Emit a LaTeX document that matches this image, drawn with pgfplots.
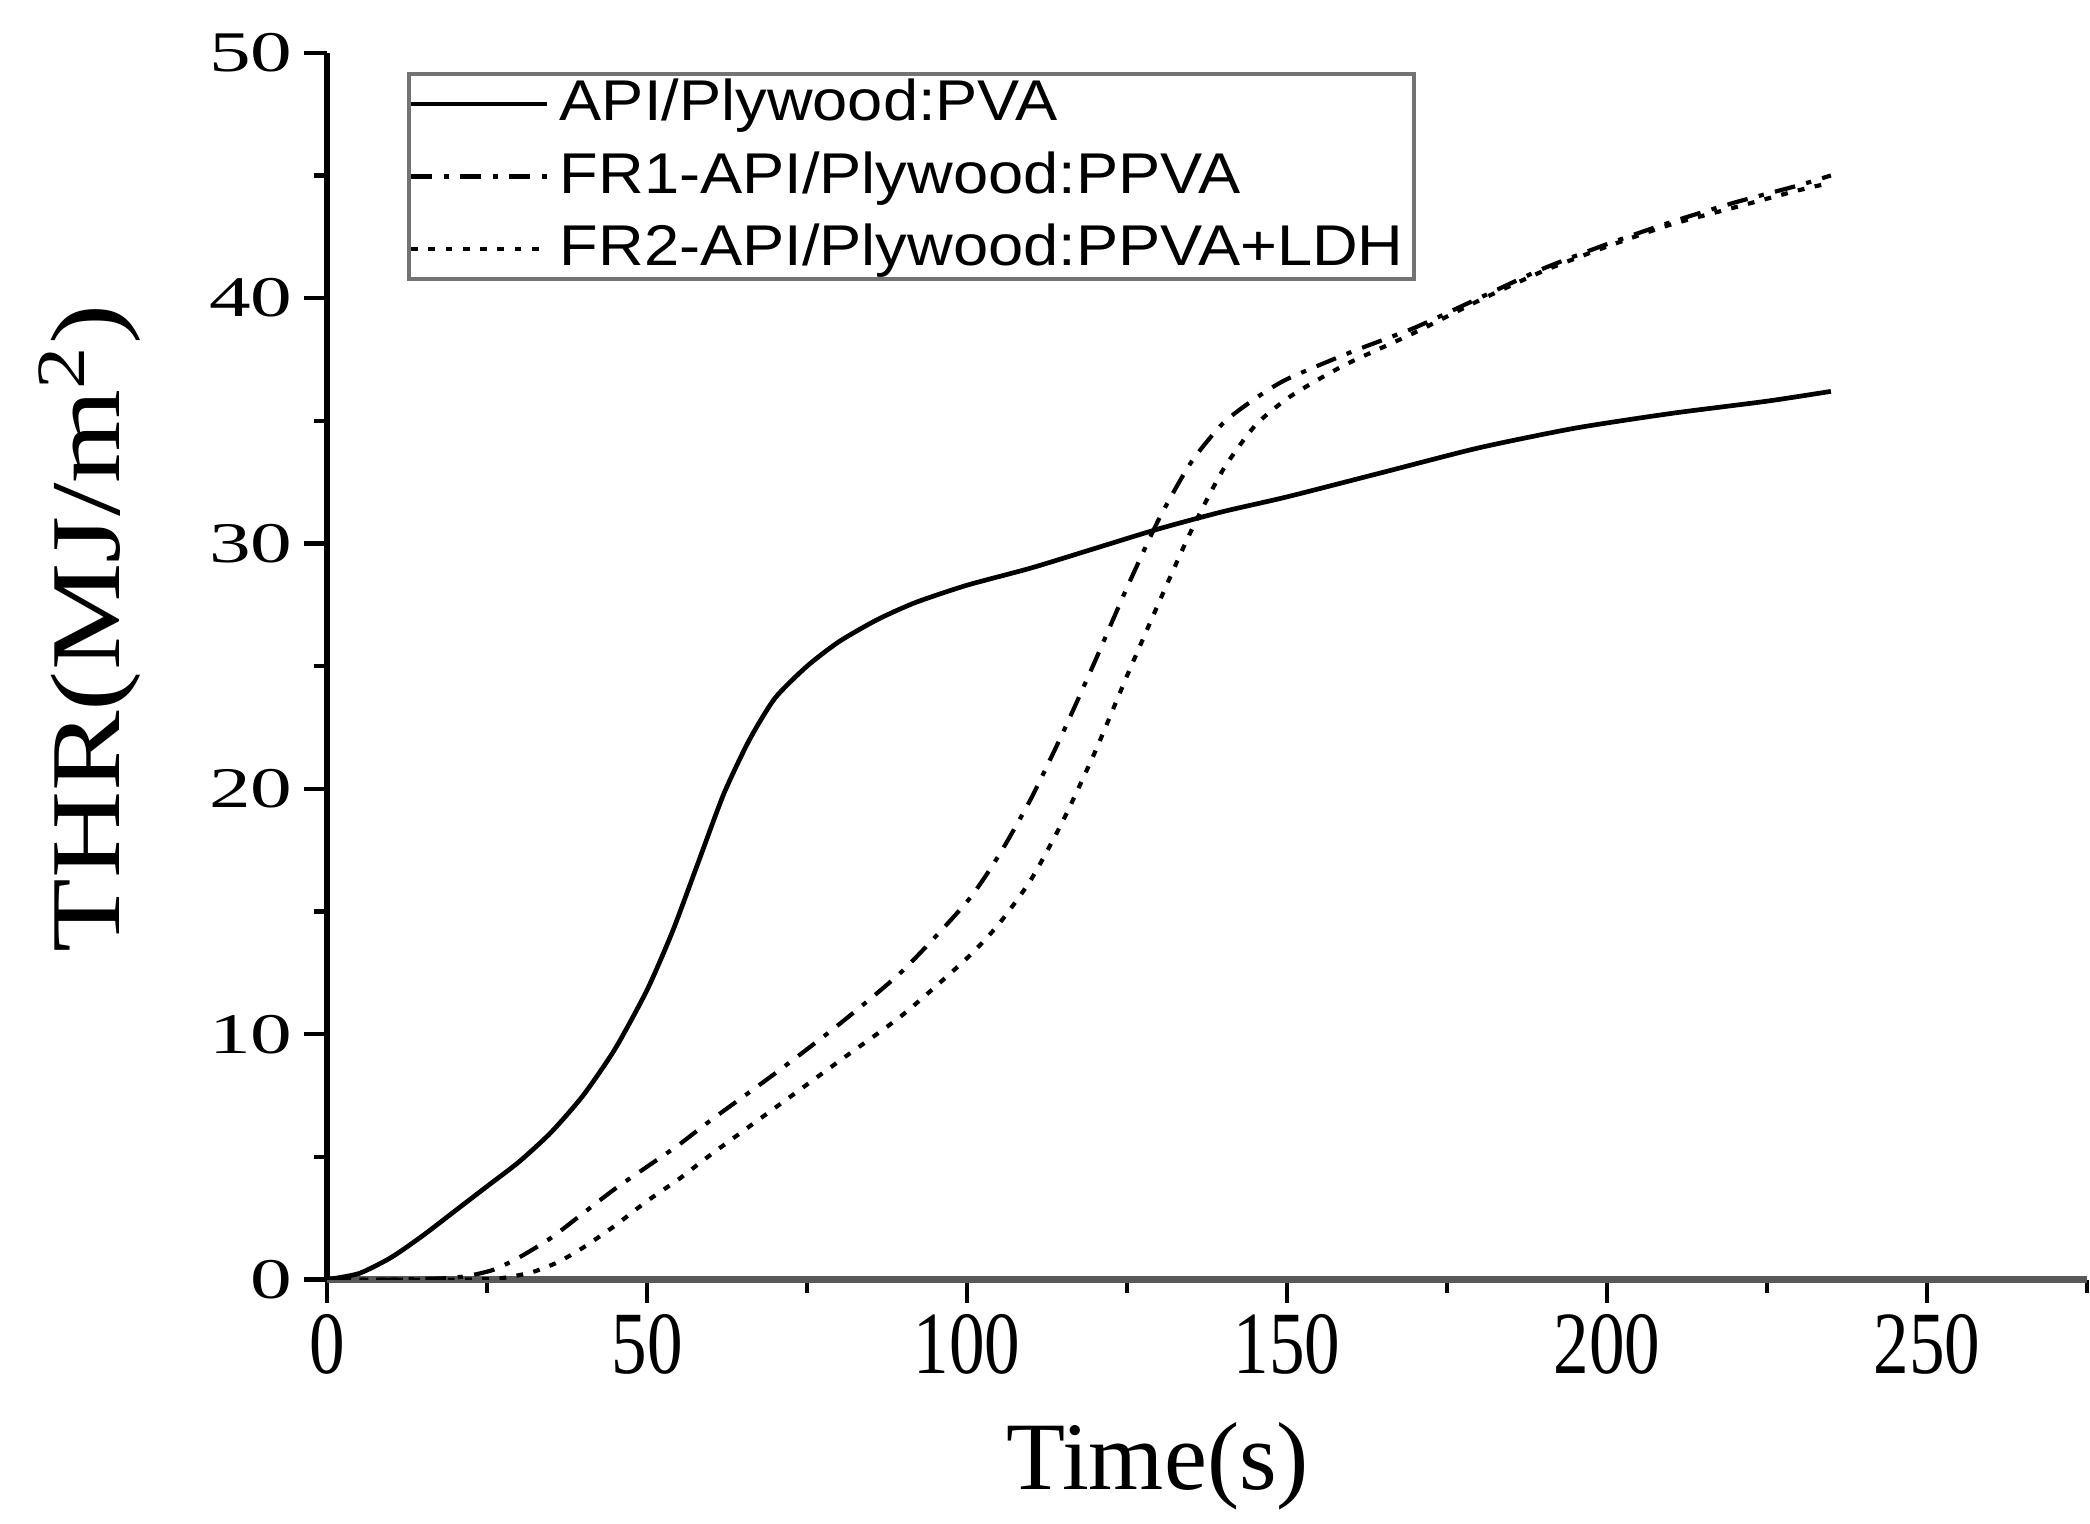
\documentclass[border=0pt]{standalone}
\usepackage{pgfplots}
\pgfplotsset{compat=1.18}
\usepackage{fontspec}
\setmainfont{Liberation Serif}
\setsansfont{Liberation Sans}

\begin{document}
\begin{tikzpicture}
\begin{axis}[
  scale only axis, width=336.8pt, height=234.8pt,
  xmin=0, xmax=275, ymin=0, ymax=50,
  axis lines*=left,
  axis line style={line width=1pt, black},
  x axis line style={draw=black!65, line width=1.2pt},
  tick align=outside,
  major tick length=4.4pt, minor tick length=2.5pt,
  every tick/.style={black, line width=0.8pt},
  xtick={0,50,...,250}, minor xtick={25,75,...,275},
  ytick={0,10,...,50}, minor ytick={5,15,...,45},
  /pgf/number format/assume math mode=true,
  xticklabel={\scalebox{1}[1.25]{\pgfmathprintnumber{\tick}}},
  yticklabel={\scalebox{1.45}[1]{\pgfmathprintnumber{\tick}}},
  xticklabel style={font=\fontsize{13.6}{15}\selectfont, inner sep=2pt},
  yticklabel style={font=\fontsize{11}{13}\selectfont, inner sep=2pt},
  xlabel={Time(s)},
  ylabel={\scalebox{1.1}[0.9]{THR(MJ/m\textsuperscript{2})}},
  xlabel style={font=\fontsize{18.5}{21}\selectfont, at={(axis description cs:0.472,-0.152)}, anchor=center},
  ylabel style={font=\fontsize{21}{24}\selectfont, at={(axis description cs:-0.135,0.531)}, anchor=center},
  legend style={at={(rel axis cs:0.0454,0.9842)}, anchor=north west, draw=black!55, line width=0.7pt,
    font=\sffamily\fontsize{11}{13}\selectfont, inner xsep=0pt, inner ysep=-1pt, row sep=0.4pt},
  legend cell align=left,
  legend image code/.code={\draw[#1] (0pt,0pt) -- (26pt,0pt);},
]
\coordinate (BL) at (rel axis cs:0,0);
\coordinate (TR) at (rel axis cs:1,1);

\addplot[black, line width=0.9pt, smooth, tension=0.4] coordinates {
(0,0) (5,0.25) (10,0.9) (15,1.8) (20,2.8) (25,3.8) (30,4.8) (35,6.0) (40,7.5) (45,9.4)
(50,11.8) (54,14.2) (58,17.0) (62,19.8) (66,22.0) (70,23.7) (75,25.0) (80,26.0) (86,26.9)
(92,27.6) (100,28.3) (110,29.0) (120,29.8) (130,30.6) (140,31.3) (150,31.9) (165,32.9)
(180,33.9) (195,34.7) (210,35.3) (225,35.8) (235,36.2)};
\addlegendentry{\scalebox{1.1}[1]{API/Plywood:PVA}}

\addplot[black, line width=0.8pt, dash pattern=on 4pt off 2.2pt on 1pt off 2.2pt, smooth, tension=0.4] coordinates {
(0,0) (10,0) (18,0.05) (22,0.15) (26,0.4) (30,0.9) (35,1.7) (40,2.7) (45,3.7) (50,4.6)
(55,5.5) (60,6.5) (70,8.4) (80,10.4) (90,12.6) (100,15.4) (105,17.3) (110,19.6) (115,22.3)
(120,25.2) (125,28.2) (130,31.0) (135,33.3) (140,34.9) (145,35.9) (150,36.7) (160,37.8)
(170,38.8) (180,40.0) (190,41.2) (200,42.2) (210,43.1) (220,43.9) (230,44.6) (235,45.0)};
\addlegendentry{\scalebox{1.1}[1]{FR1-API/Plywood:PPVA}}

\addplot[black, line width=0.8pt, dash pattern=on 1.3pt off 2pt, smooth, tension=0.4] coordinates {
(0,0) (20,0) (27,0.05) (32,0.3) (36,0.7) (40,1.3) (45,2.2) (50,3.2) (55,4.1) (60,5.1)
(70,7.0) (80,8.9) (90,10.8) (100,13.1) (105,14.5) (110,16.3) (115,18.7) (120,21.5)
(125,24.6) (130,27.6) (135,30.5) (140,33.0) (145,34.8) (150,35.9) (155,36.7) (160,37.4)
(170,38.6) (180,39.9) (190,41.1) (200,42.1) (210,43.0) (220,43.7) (230,44.4) (235,44.7)};
\addlegendentry{\scalebox{1.1}[1]{FR2-API/Plywood:PPVA+LDH}}
\end{axis}
\pgfresetboundingbox
\path ([shift={(-62.6pt,-46.7pt)}]BL) rectangle ([shift={(0.6pt,10.1pt)}]TR);
\end{tikzpicture}
\end{document}
